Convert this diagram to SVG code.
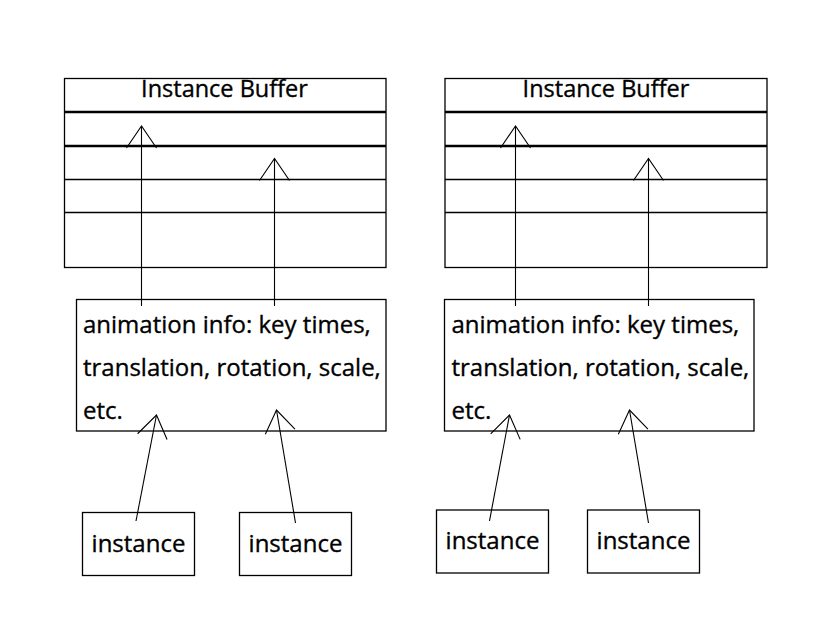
<svg xmlns="http://www.w3.org/2000/svg" width="832" height="620" viewBox="0 0 832 620">
<defs>
<style>
.box{fill:#fff;stroke:#000;stroke-width:1.3}
.row{stroke:#000;stroke-width:1.3;fill:none}
.thick{stroke:#000;stroke-width:2.6;fill:none}
.conn{stroke:#000;stroke-width:1.1;fill:none}
.t{font-family:"Open Sans","Liberation Sans",sans-serif;font-size:24px;fill:#000;stroke:#000;stroke-width:0.35}
.title{font-family:"Open Sans","Liberation Sans",sans-serif;font-size:23.5px;fill:#000;stroke:#000;stroke-width:0.35;text-anchor:middle}
</style>
<marker id="open" markerUnits="userSpaceOnUse" markerWidth="40" markerHeight="40" viewBox="-30 -20 40 40" refX="0" refY="0" orient="auto" overflow="visible">
<path d="M-22,-15 L0,0 L-22,15" fill="none" stroke="#000" stroke-width="1.1"/>
</marker>
</defs>
<rect width="832" height="620" fill="#fff"/>

<g id="buffer-left">
<rect class="box" x="64.5" y="78.5" width="321.5" height="189"/>
<line class="thick" x1="64.5" y1="112" x2="386" y2="112"/>
<line class="thick" x1="64.5" y1="146" x2="386" y2="146"/>
<line class="row" x1="64.5" y1="179.5" x2="386" y2="179.5"/>
<line class="row" x1="64.5" y1="212.5" x2="386" y2="212.5"/>
<text class="title" x="224.5" y="97">Instance Buffer</text>
</g>

<g id="buffer-right">
<rect class="box" x="445" y="78.5" width="322" height="189"/>
<line class="thick" x1="445" y1="112" x2="767" y2="112"/>
<line class="thick" x1="445" y1="146" x2="767" y2="146"/>
<line class="row" x1="445" y1="179.5" x2="767" y2="179.5"/>
<line class="row" x1="445" y1="212.5" x2="767" y2="212.5"/>
<text class="title" x="606" y="97">Instance Buffer</text>
</g>

<g id="anim-left">
<rect class="box" x="76.5" y="299.5" width="309.5" height="131.5"/>
<text class="t" x="83" y="333">animation info: key times,</text>
<text class="t" x="83" y="376">translation, rotation, scale,</text>
<text class="t" x="83" y="419">etc.</text>
</g>

<g id="anim-right">
<rect class="box" x="444.5" y="299.5" width="309.5" height="131.5"/>
<text class="t" x="451.5" y="333">animation info: key times,</text>
<text class="t" x="451.5" y="376">translation, rotation, scale,</text>
<text class="t" x="451.5" y="419">etc.</text>
</g>

<g id="instance-left-1">
<rect class="box" x="82.5" y="512.5" width="112" height="63"/>
<text class="t" x="138.5" y="551.5" text-anchor="middle">instance</text>
</g>
<g id="instance-left-2">
<rect class="box" x="239.5" y="512.5" width="112" height="63"/>
<text class="t" x="295.5" y="551.5" text-anchor="middle">instance</text>
</g>
<g id="instance-right-1">
<rect class="box" x="436.5" y="510" width="112" height="63"/>
<text class="t" x="492.5" y="549" text-anchor="middle">instance</text>
</g>
<g id="instance-right-2">
<rect class="box" x="587.5" y="510" width="112" height="63"/>
<text class="t" x="643.5" y="549" text-anchor="middle">instance</text>
</g>

<g id="connectors">
<line class="conn" x1="141.5" y1="306" x2="141.5" y2="126" marker-end="url(#open)"/>
<line class="conn" x1="274.5" y1="306" x2="274.5" y2="158.5" marker-end="url(#open)"/>
<line class="conn" x1="515.5" y1="306" x2="515.5" y2="126" marker-end="url(#open)"/>
<line class="conn" x1="648.5" y1="306" x2="648.5" y2="158.5" marker-end="url(#open)"/>
<line class="conn" x1="136" y1="521" x2="156.5" y2="415" marker-end="url(#open)"/>
<line class="conn" x1="295.5" y1="523" x2="276.5" y2="410" marker-end="url(#open)"/>
<line class="conn" x1="489.5" y1="521" x2="509.5" y2="415" marker-end="url(#open)"/>
<line class="conn" x1="648.5" y1="523" x2="629.5" y2="410" marker-end="url(#open)"/>
</g>
</svg>
